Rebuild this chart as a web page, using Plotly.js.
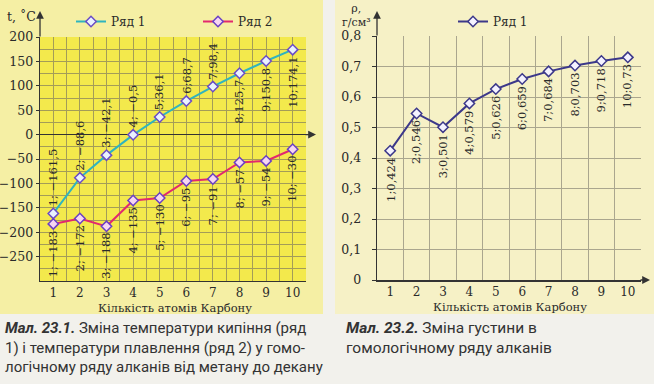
<!DOCTYPE html>
<html>
<head>
<meta charset="utf-8">
<script src="https://cdn.plot.ly/plotly-3.0.1.min.js"></script>
<style>html,body{margin:0;padding:0;background:#f2f1ec;}#chart{width:654px;height:384px;}</style>
</head>
<body>
<div id="chart"></div>
<script>
// ---- data ----
const carbons = [1, 2, 3, 4, 5, 6, 7, 8, 9, 10];
const boiling = [-161.5, -88.6, -42.1, -0.5, 36.1, 68.7, 98.4, 125.7, 150.8, 174.1];
const melting = [-183, -172, -188, -135, -130, -95, -91, -57, -54, -30];
const density = [0.424, 0.546, 0.501, 0.579, 0.626, 0.659, 0.684, 0.703, 0.718, 0.73];
const tempTicks = [-250, -200, -150, -100, -50, 0, 50, 100, 150, 200];
const seriesNames = ['Ряд 1', 'Ряд 2'];
const xTitle = 'Кількість атомів Карбону';

// ---- helpers ----
const W = 654, H = 384;
const px = x => x / W;
const py = y => 1 - y / H;
const serif = 'DejaVu Serif';
const ink = '#2a2a2a';

function numStr(v) {
  const s = String(Math.abs(v)).replace('.', ',');
  return v < 0 ? ' \u2212' + s : s;
}

const labelFont = {family: serif, size: 11.5, color: ink};
const annotations = [];

carbons.forEach((c, i) => {
  const v = boiling[i];
  const below = v > 100;
  annotations.push({
    x: c, y: v, xref: 'x', yref: 'y', text: c + ';' + numStr(v),
    textangle: -90, showarrow: false,
    yanchor: below ? 'top' : 'bottom', yshift: below ? -5 : 5,
    font: labelFont
  });
});
carbons.forEach((c, i) => {
  const v = melting[i];
  annotations.push({
    x: c, y: v, xref: 'x', yref: 'y', text: c + ';' + numStr(v),
    textangle: -90, showarrow: false, yanchor: 'top', yshift: -5,
    font: labelFont
  });
});
carbons.forEach((c, i) => {
  const v = density[i];
  annotations.push({
    x: c, y: v, xref: 'x2', yref: 'y2', text: c + ';' + numStr(v),
    textangle: -90, showarrow: false, yanchor: 'top', yshift: -5,
    font: labelFont
  });
});

// axis titles
annotations.push({xref: 'paper', yref: 'paper', x: px(5), y: py(7), xanchor: 'left', yanchor: 'top',
  text: 't, \u02DAC', showarrow: false, font: {family: serif, size: 12.5, color: ink}});
annotations.push({xref: 'paper', yref: 'paper', x: px(357), y: py(0), xanchor: 'center', yanchor: 'top',
  text: 'ρ,<br>г/см³', showarrow: false, font: {family: serif, size: 11, color: ink}});
annotations.push({xref: 'paper', yref: 'paper', x: px(175), y: py(308), xanchor: 'center', yanchor: 'middle',
  text: xTitle, showarrow: false, font: {family: serif, size: 11.5, color: ink}});
annotations.push({xref: 'paper', yref: 'paper', x: px(510), y: py(307), xanchor: 'center', yanchor: 'middle',
  text: xTitle, showarrow: false, font: {family: serif, size: 11.5, color: ink}});

// axis arrows
const arrow = {text: '', showarrow: true, arrowhead: 2, arrowsize: 1.2, arrowwidth: 1.3, arrowcolor: '#333', axref: 'pixel', ayref: 'pixel'};
annotations.push(Object.assign({}, arrow, {xref: 'paper', yref: 'paper', x: px(40), y: py(11), ax: 0, ay: 27}));
annotations.push(Object.assign({}, arrow, {xref: 'paper', yref: 'y', x: px(316), y: 0, ax: -12, ay: 0}));
annotations.push(Object.assign({}, arrow, {xref: 'paper', yref: 'paper', x: px(377), y: py(11), ax: 0, ay: 26}));
annotations.push(Object.assign({}, arrow, {xref: 'paper', yref: 'y2', x: px(650), y: 0, ax: -11, ay: 0}));

// captions
const capFont = {family: 'Roboto, Liberation Sans, sans-serif', size: 15, color: '#333'};
annotations.push({xref: 'paper', yref: 'paper', x: px(3), y: py(317), xanchor: 'left', yanchor: 'top', align: 'left',
  showarrow: false, font: capFont,
  text: '<b><i>Мал. 23.1.</i></b> Зміна температури кипіння (ряд<br>1) і температури плавлення (ряд 2) у гомо-<br>логічному ряду алканів від метану до декану'});
annotations.push({xref: 'paper', yref: 'paper', x: px(344), y: py(317), xanchor: 'left', yanchor: 'top', align: 'left',
  showarrow: false, font: Object.assign({}, capFont, {size: 15.5}),
  text: '<b><i>Мал. 23.2.</i></b> Зміна густини в<br>гомологічному ряду алканів'});

const markerStyle = (fill, edge) => ({symbol: 'diamond', size: 8, color: fill, line: {color: edge, width: 1.5}});

const traces = [
  {x: carbons, y: boiling, xaxis: 'x', yaxis: 'y', type: 'scatter', mode: 'lines+markers', name: seriesNames[0],
   legend: 'legend', line: {color: '#2fb4bf', width: 2}, marker: markerStyle('#eaf2ff', '#6a4cc6'), hoverinfo: 'skip'},
  {x: carbons, y: melting, xaxis: 'x', yaxis: 'y', type: 'scatter', mode: 'lines+markers', name: seriesNames[1],
   legend: 'legend', line: {color: '#e2286f', width: 2}, marker: markerStyle('#f6d6f2', '#6a3fc4'), hoverinfo: 'skip'},
  {x: carbons, y: density, xaxis: 'x2', yaxis: 'y2', type: 'scatter', mode: 'lines+markers', name: seriesNames[0],
   legend: 'legend2', line: {color: '#3c388a', width: 2}, marker: markerStyle('#f4f2ff', '#3c388a'), hoverinfo: 'skip'}
];

const grid1 = '#a39c58';
const grid2 = '#aaa68e';
const tickFont = {family: serif, size: 12, color: ink};

const layout = {
  width: W, height: H, margin: {l: 0, r: 0, t: 0, b: 0},
  paper_bgcolor: '#f2f1ec', plot_bgcolor: 'rgba(0,0,0,0)',
  separators: ', ',
  font: {family: serif, size: 11, color: ink},
  showlegend: true,
  legend: {orientation: 'h', x: px(71), y: py(7), xanchor: 'left', yanchor: 'top', bgcolor: 'rgba(0,0,0,0)',
    font: {family: serif, size: 12, color: ink}, entrywidth: 82, itemwidth: 30},
  legend2: {orientation: 'h', x: px(453), y: py(7), xanchor: 'left', yanchor: 'top', bgcolor: 'rgba(0,0,0,0)',
    font: {family: serif, size: 12, color: ink}, itemwidth: 30},
  xaxis: {domain: [px(40), px(306)], range: [0.5, 10.5], anchor: 'y', tick0: 1, dtick: 1,
    showgrid: true, gridcolor: grid1, gridwidth: 1,
    minor: {tick0: 0.5, dtick: 0.5, showgrid: true, gridcolor: grid1, gridwidth: 1},
    showline: true, linecolor: '#333', linewidth: 1.3, zeroline: false, ticks: '', ticklen: 0, tickfont: tickFont, fixedrange: true},
  yaxis: {domain: [py(281), py(37)], range: [-300, 200], anchor: 'x', tickvals: tempTicks,
    showgrid: true, gridcolor: grid1, gridwidth: 1,
    minor: {tick0: 0, dtick: 25, showgrid: true, gridcolor: grid1, gridwidth: 1},
    showline: true, linecolor: '#333', linewidth: 1.3, zeroline: true, zerolinecolor: '#333', zerolinewidth: 1.5,
    ticks: 'outside', ticklen: 3, tickcolor: '#333', tickfont: Object.assign({}, tickFont, {size: 12.5}), fixedrange: true},
  xaxis2: {domain: [px(377), px(641)], range: [0.5, 10.5], anchor: 'y2', tick0: 1, dtick: 1,
    showgrid: false,
    minor: {tick0: 0.5, dtick: 0.5, showgrid: true, gridcolor: grid2, gridwidth: 1},
    showline: true, linecolor: '#333', linewidth: 1.5, zeroline: false, ticks: '', ticklen: 0, tickfont: tickFont, fixedrange: true},
  yaxis2: {domain: [py(280), py(36)], range: [0, 0.8], anchor: 'x2', dtick: 0.1, tick0: 0,
    showgrid: true, gridcolor: grid2, gridwidth: 1,
    showline: true, linecolor: '#333', linewidth: 1.3, zeroline: false,
    ticks: 'outside', ticklen: 4, tickcolor: '#333', ticklabelstandoff: 8, tickfont: Object.assign({}, tickFont, {size: 12.5}), fixedrange: true},
  shapes: [
    {type: 'rect', xref: 'paper', yref: 'paper', x0: 0, x1: px(323), y0: py(314), y1: 1, fillcolor: '#f5efa4', line: {width: 0}, layer: 'below'},
    {type: 'rect', xref: 'paper', yref: 'paper', x0: px(335), x1: 1, y0: py(314), y1: 1, fillcolor: '#f6f1c6', line: {width: 0}, layer: 'below'},
    {type: 'rect', xref: 'x domain', yref: 'y domain', x0: 0, x1: 1, y0: 0, y1: 1, fillcolor: '#f3e94c', line: {width: 0}, layer: 'below'}
  ],
  annotations: annotations
};

Plotly.newPlot('chart', traces, layout, {staticPlot: true, displayModeBar: false});
</script>
</body>
</html>
